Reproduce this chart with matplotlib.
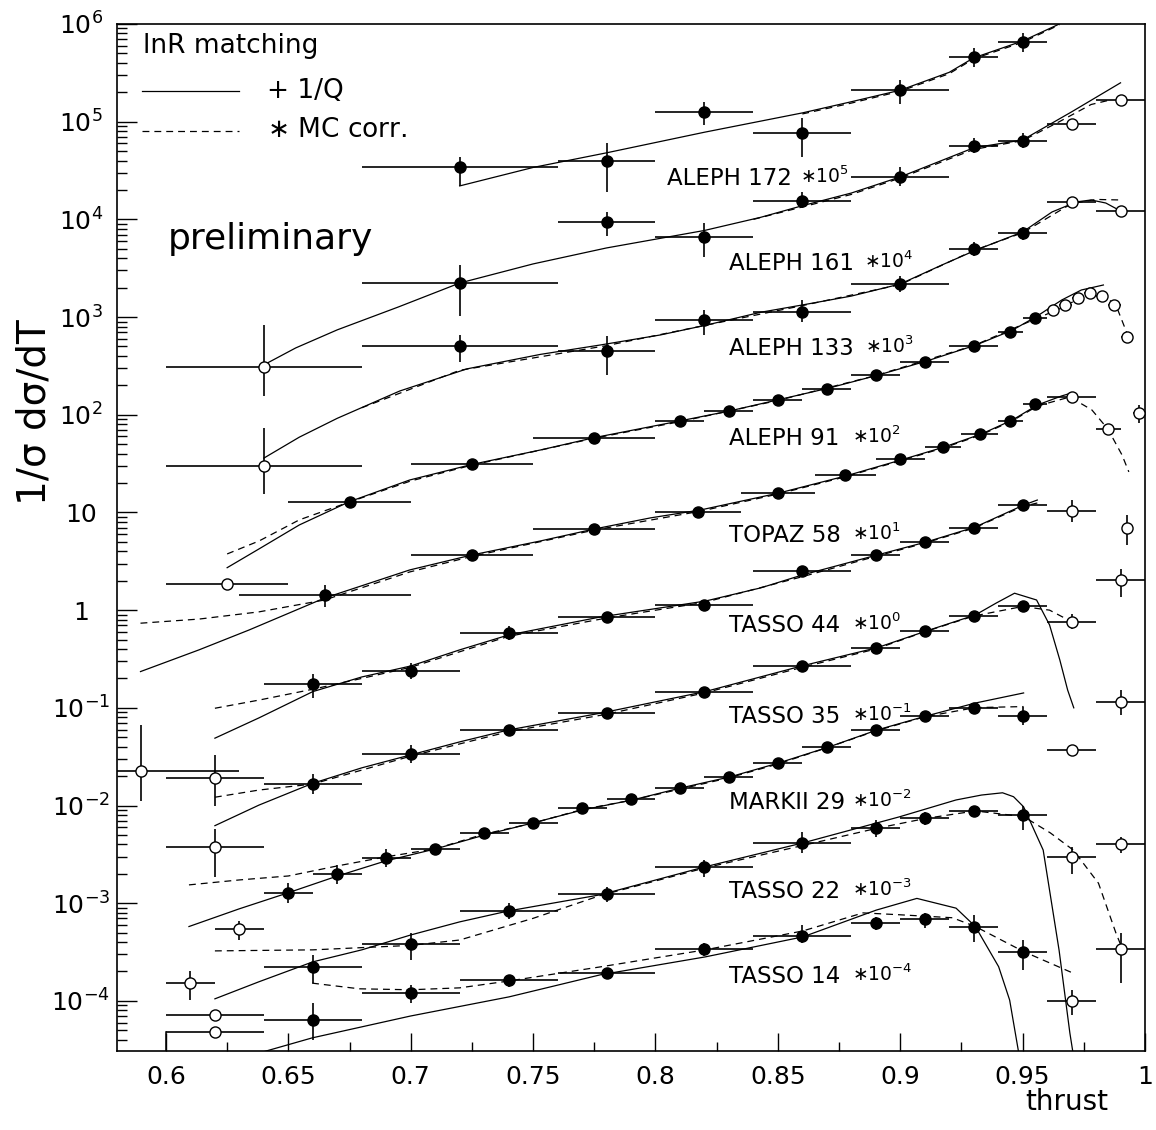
import matplotlib
matplotlib.use('Agg')
import numpy as np
import matplotlib.pyplot as plt
from matplotlib.ticker import MultipleLocator, FixedLocator, FuncFormatter, NullFormatter

plt.rcParams['font.family'] = ['DejaVu Sans']
plt.rcParams['mathtext.fontset'] = 'dejavusans'

# ---- ALEPH 172 GeV (x 1e5) ----
a172_T = [0.72, 0.78, 0.82, 0.86, 0.90, 0.93, 0.95]
a172_dT = [0.04, 0.02, 0.02, 0.02, 0.02, 0.01, 0.01]
a172_y = [3.4e4, 4.0e4, 1.26e5, 7.7e4, 2.1e5, 4.6e5, 6.5e5]
a172_lo = [2.2e4, 1.9e4, 9.2e4, 4.4e4, 1.5e5, 3.6e5, 5.2e5]
a172_hi = [4.4e4, 6.0e4, 1.6e5, 1.1e5, 2.7e5, 5.7e5, 8.1e5]
a172_open = [0, 0, 0, 0, 0, 0, 0]
a172_fit_T = [0.72, 0.75, 0.78, 0.82, 0.86, 0.88, 0.90, 0.92, 0.93, 0.95, 0.965]
a172_fit = [2.2e4, 3.4e4, 4.8e4, 7.8e4, 1.23e5, 1.6e5, 2.1e5, 3.2e5, 4.5e5, 6.7e5, 1.0e6]
a172_mc_T = [0.86, 0.88, 0.90, 0.92, 0.93, 0.95, 0.965]
a172_mc = [1.2e5, 1.55e5, 2.05e5, 3.1e5, 4.4e5, 6.5e5, 9.8e5]

# ---- ALEPH 161 GeV (x 1e4) ----
a161_T = [0.64, 0.72, 0.78, 0.82, 0.86, 0.90, 0.93, 0.95, 0.97, 0.99]
a161_dT = [0.04, 0.04, 0.02, 0.02, 0.02, 0.02, 0.01, 0.01, 0.01, 0.01]
a161_y = [306, 2250, 9400, 6600, 1.55e4, 2.7e4, 5.7e4, 6.4e4, 9.5e4, 1.67e5]
a161_lo = [156, 1030, 6800, 4100, 1.3e4, 2.2e4, 4.8e4, 5.4e4, 9.5e4, 1.67e5]
a161_hi = [830, 3400, 1.19e4, 9200, 1.9e4, 3.4e4, 6.8e4, 7.7e4, 9.5e4, 1.67e5]
a161_open = [1, 0, 0, 0, 0, 0, 0, 0, 1, 1]
a161_fit_T = [0.64, 0.653, 0.67, 0.695, 0.72, 0.75, 0.78, 0.82, 0.843, 0.86, 0.88, 0.90,
              0.93, 0.95, 0.97, 0.99]
a161_fit = [324, 483, 740, 1270, 2230, 3500, 5100, 7700, 1.05e4, 1.38e4, 1.86e4, 2.72e4,
            5.4e4, 6.5e4, 1.26e5, 2.5e5]
a161_mc_T = [0.84, 0.86, 0.88, 0.90, 0.93, 0.95, 0.965, 0.978, 0.985]
a161_mc = [1.0e4, 1.34e4, 1.8e4, 2.65e4, 5.2e4, 6.4e4, 1.0e5, 1.5e5, 1.65e5]

# ---- ALEPH 133 GeV (x 1e3) ----
a133_T = [0.64, 0.72, 0.78, 0.82, 0.86, 0.90, 0.93, 0.95, 0.97, 0.99]
a133_dT = [0.04, 0.04, 0.02, 0.02, 0.02, 0.02, 0.01, 0.01, 0.01, 0.01]
a133_y = [30, 506, 450, 934, 1140, 2180, 4940, 7200, 1.52e4, 1.23e4]
a133_lo = [15.5, 347, 255, 656, 890, 1810, 4200, 6200, 1.52e4, 1.1e4]
a133_hi = [73, 656, 641, 1180, 1500, 2630, 5800, 8400, 1.52e4, 1.37e4]
a133_open = [1, 0, 0, 0, 0, 0, 0, 0, 1, 1]
a133_fit_T = [0.64, 0.6545, 0.67, 0.6955, 0.723, 0.753, 0.7775, 0.802, 0.821, 0.843, 0.86,
              0.88, 0.90, 0.917, 0.931, 0.95, 0.962, 0.972, 0.978, 0.984, 0.99]
a133_fit = [36, 59, 92, 175, 295, 415, 518, 656, 830, 1120, 1330,
            1640, 2180, 3410, 4860, 7430, 1.19e4, 1.51e4, 1.58e4, 1.47e4, 1.22e4]
a133_mc_T = [0.68, 0.72, 0.78, 0.82, 0.86, 0.90, 0.93, 0.95, 0.97, 0.98, 0.99]
a133_mc = [118, 285, 510, 820, 1310, 2150, 4800, 7300, 1.45e4, 1.6e4, 1.58e4]

# ---- ALEPH 91 GeV (x 1e2) ----
a91_T = [0.625, 0.675, 0.725, 0.775, 0.81, 0.83, 0.85, 0.87, 0.89, 0.91, 0.93, 0.945, 0.955,
         0.9625, 0.9675, 0.9725, 0.9775, 0.9825, 0.9875, 0.9925, 0.9975]
a91_dT = [0.025, 0.025, 0.025, 0.025, 0.01, 0.01, 0.01, 0.01, 0.01, 0.01, 0.01, 0.005, 0.005,
          0.0025, 0.0025, 0.0025, 0.0025, 0.0025, 0.0025, 0.0025, 0.0025]
a91_y = [1.85, 12.9, 31.0, 58.3, 86.4, 109, 141, 185, 255, 347, 509, 709, 972,
         1183, 1330, 1580, 1750, 1645, 1330, 621, 104]
a91_lo = [1.85, 11.6, 29.0, 55.0, 86.4, 109, 141, 185, 255, 347, 509, 709, 972,
          1183, 1330, 1580, 1750, 1645, 1330, 621, 82]
a91_hi = [1.85, 14.3, 33.0, 62.0, 86.4, 109, 141, 185, 255, 347, 509, 709, 972,
          1183, 1330, 1580, 1750, 1645, 1330, 621, 126]
a91_open = [1, 0, 0, 0, 0, 0, 0, 0, 0, 0, 0, 0, 0, 1, 1, 1, 1, 1, 1, 1, 1]
a91_fit_T = [0.625, 0.638, 0.6545, 0.675, 0.6996, 0.725, 0.753, 0.775, 0.81, 0.83, 0.85, 0.871,
             0.891, 0.911, 0.931, 0.946, 0.956, 0.966, 0.974, 0.983]
a91_fit = [2.72, 4.23, 7.45, 12.9, 21.5, 31, 43.6, 58.3, 86.5, 109, 142, 188,
           255, 356, 518, 738, 1026, 1496, 1893, 2130]
a91_mc_T = [0.625, 0.638, 0.6545, 0.675, 0.70, 0.725, 0.775, 0.81, 0.85, 0.89, 0.93, 0.956,
            0.966, 0.9734, 0.9783, 0.9832, 0.9881, 0.9934]
a91_mc = [3.76, 5.1, 8.4, 12.8, 21, 30.5, 57.5, 85, 140, 252, 510, 975,
          1240, 1570, 1730, 1645, 1330, 611]

# ---- TOPAZ 58 GeV (x 10) ----
topaz_T = [0.665, 0.725, 0.775, 0.8175, 0.85, 0.8775, 0.90, 0.9175, 0.9325, 0.945, 0.955,
           0.97, 0.985, 0.9925]
topaz_dT = [0.035, 0.025, 0.025, 0.0175, 0.015, 0.0125, 0.01, 0.0075, 0.0075, 0.005, 0.005,
            0.01, 0.005, 0.0]
topaz_y = [1.43, 3.67, 6.73, 10.2, 16.0, 24.0, 35.0, 46.5, 63.6, 87, 129, 153, 71, 7.0]
topaz_lo = [1.08, 3.67, 6.73, 10.2, 16.0, 24.0, 35.0, 46.5, 63.6, 87, 129, 153, 71, 4.6]
topaz_hi = [1.81, 3.67, 6.73, 10.2, 16.0, 24.0, 35.0, 46.5, 63.6, 87, 129, 153, 71, 9.4]
topaz_open = [0, 0, 0, 0, 0, 0, 0, 0, 0, 0, 0, 1, 1, 1]
topaz_fit_T = [0.5896, 0.6135, 0.634, 0.6648, 0.6996, 0.725, 0.7529, 0.775, 0.798, 0.8184,
               0.8504, 0.8779, 0.9004, 0.918, 0.9332, 0.9459, 0.9561, 0.966, 0.970]
topaz_fit = [0.235, 0.392, 0.627, 1.33, 2.58, 3.67, 5.1, 6.77, 8.8, 10.6,
             15.8, 23.7, 34.5, 46.8, 63.6, 88.5, 126, 156, 167]
topaz_mc_T = [0.5896, 0.6135, 0.638, 0.6648, 0.6996, 0.725, 0.775, 0.8184, 0.8504, 0.8779,
              0.9004, 0.918, 0.9332, 0.9459, 0.9561, 0.9693, 0.9783, 0.9848, 0.9906, 0.9934]
topaz_mc = [0.735, 0.81, 0.96, 1.27, 2.46, 3.55, 6.6, 10.3, 15.5, 23.3,
            34, 46, 62.5, 87, 123, 152, 112, 71.6, 38.8, 26]

# ---- TASSO 44 GeV (x 1) ----
t44_T = [0.59, 0.66, 0.70, 0.74, 0.78, 0.82, 0.86, 0.89, 0.91, 0.93, 0.95, 0.97, 0.99]
t44_dT = [0.04, 0.02, 0.02, 0.02, 0.02, 0.02, 0.02, 0.01, 0.01, 0.01, 0.01, 0.01, 0.01]
t44_y = [0.0226, 0.175, 0.240, 0.589, 0.859, 1.13, 2.54, 3.67, 5.02, 6.89, 11.9, 10.4, 2.04]
t44_lo = [0.0112, 0.126, 0.195, 0.50, 0.859, 1.13, 2.54, 3.67, 5.02, 6.89, 11.9, 8.0, 1.36]
t44_hi = [0.0668, 0.222, 0.29, 0.69, 0.859, 1.13, 2.54, 3.67, 5.02, 6.89, 11.9, 13.4, 2.63]
t44_open = [1, 0, 0, 0, 0, 0, 0, 0, 0, 0, 0, 1, 1]
t44_fit_T = [0.62, 0.638, 0.66, 0.68, 0.70, 0.72, 0.74, 0.7775, 0.8205, 0.843, 0.86, 0.8906,
             0.9107, 0.9307, 0.9504, 0.956]
t44_fit = [0.0489, 0.0789, 0.1466, 0.207, 0.268, 0.392, 0.557, 0.851, 1.24, 1.69, 2.29, 3.67,
           4.99, 7.1, 11.9, 13.4]
t44_mc_T = [0.62, 0.638, 0.66, 0.68, 0.70, 0.74, 0.78, 0.82, 0.86, 0.89, 0.91, 0.93, 0.95, 0.956]
t44_mc = [0.099, 0.12, 0.155, 0.2, 0.26, 0.54, 0.83, 1.2, 2.2, 3.55, 4.85, 6.9, 11.5, 12.5]

# ---- TASSO 35 GeV (x 1e-1) ----
t35_T = [0.62, 0.66, 0.70, 0.74, 0.78, 0.82, 0.86, 0.89, 0.91, 0.93, 0.95, 0.97, 0.99]
t35_dT = [0.02, 0.02, 0.02, 0.02, 0.02, 0.02, 0.02, 0.01, 0.01, 0.01, 0.01, 0.01, 0.01]
t35_y = [0.0193, 0.0166, 0.0335, 0.0594, 0.0893, 0.1466, 0.2685, 0.413, 0.612, 0.879, 1.09,
         0.762, 0.116]
t35_lo = [0.0098, 0.0132, 0.0271, 0.0594, 0.0893, 0.1466, 0.2685, 0.413, 0.612, 0.879, 1.09,
          0.64, 0.085]
t35_hi = [0.033, 0.0212, 0.0415, 0.0594, 0.0893, 0.1466, 0.2685, 0.413, 0.612, 0.879, 1.09,
          0.91, 0.152]
t35_open = [1, 0, 0, 0, 0, 0, 0, 0, 0, 0, 0, 1, 1]
t35_fit_T = [0.62, 0.638, 0.66, 0.68, 0.70, 0.72, 0.74, 0.7775, 0.8203, 0.8602, 0.8906, 0.9107,
             0.9307, 0.9393, 0.9467, 0.9557, 0.961, 0.9652, 0.9684, 0.9709]
t35_fit = [0.00622, 0.0101, 0.0169, 0.0243, 0.033, 0.0448, 0.0594, 0.0881, 0.1466, 0.270,
           0.413, 0.612, 0.893, 1.185, 1.49, 1.27, 0.706, 0.309, 0.152, 0.1]
t35_mc_T = [0.62, 0.638, 0.66, 0.70, 0.74, 0.78, 0.82, 0.86, 0.89, 0.91, 0.93, 0.95, 0.961, 0.97]
t35_mc = [0.01216, 0.0144, 0.0166, 0.032, 0.057, 0.086, 0.142, 0.26, 0.40, 0.60, 0.87, 1.09,
          1.0, 0.762]

# ---- MARK II 29 GeV (x 1e-2) ----
m29_T = [0.62, 0.65, 0.67, 0.69, 0.71, 0.73, 0.75, 0.77, 0.79, 0.81, 0.83, 0.85, 0.87, 0.89,
         0.91, 0.93, 0.95, 0.97]
m29_dT = [0.02, 0.01, 0.01, 0.01, 0.01, 0.01, 0.01, 0.01, 0.01, 0.01, 0.01, 0.01, 0.01, 0.01,
          0.01, 0.01, 0.01, 0.01]
m29_y = [0.00379, 0.00126, 0.00198, 0.00293, 0.00357, 0.00528, 0.00668, 0.00938, 0.0116,
         0.0150, 0.0196, 0.0271, 0.0395, 0.0594, 0.0826, 0.1005, 0.0832, 0.0371]
m29_lo = [0.00187, 0.00101, 0.00158, 0.00234, 0.00320, 0.00480, 0.00620, 0.00880, 0.0116,
          0.0150, 0.0196, 0.0271, 0.0395, 0.0594, 0.0826, 0.1005, 0.067, 0.0371]
m29_hi = [0.00577, 0.00161, 0.00245, 0.00360, 0.00400, 0.00580, 0.00720, 0.0100, 0.0116,
          0.0150, 0.0196, 0.0271, 0.0395, 0.0594, 0.0826, 0.1005, 0.103, 0.0371]
m29_open = [1, 0, 0, 0, 0, 0, 0, 0, 0, 0, 0, 0, 0, 0, 0, 0, 0, 1]
m29_fit_T = [0.6094, 0.6299, 0.65, 0.6701, 0.6898, 0.7102, 0.7303, 0.75, 0.7701, 0.7906, 0.8102,
             0.8303, 0.8504, 0.8709, 0.8906, 0.9107, 0.9307, 0.9504]
m29_fit = [5.77e-4, 8.75e-4, 1.28e-3, 1.9e-3, 2.71e-3, 3.6e-3, 5.0e-3, 6.64e-3, 9.0e-3, 0.0114,
           0.0151, 0.0196, 0.0273, 0.0398, 0.0594, 0.0826, 0.112, 0.142]
m29_mc_T = [0.6094, 0.6299, 0.65, 0.6701, 0.6898, 0.71, 0.73, 0.75, 0.77, 0.79, 0.81, 0.83, 0.85,
            0.87, 0.89, 0.91, 0.9307, 0.9504]
m29_mc = [1.54e-3, 1.73e-3, 1.9e-3, 2.41e-3, 2.98e-3, 3.6e-3, 5.1e-3, 6.6e-3, 9.1e-3, 0.0113,
          0.0147, 0.0192, 0.0266, 0.039, 0.058, 0.081, 0.1005, 0.103]

# ---- TASSO 22 GeV (x 1e-3) ----
t22_T = [0.61, 0.63, 0.66, 0.70, 0.74, 0.78, 0.82, 0.86, 0.89, 0.91, 0.93, 0.95, 0.97, 0.99]
t22_dT = [0.01, 0.01, 0.02, 0.02, 0.02, 0.02, 0.02, 0.02, 0.01, 0.01, 0.01, 0.01, 0.01, 0.01]
t22_y = [1.54e-4, 5.42e-4, 2.24e-4, 3.8e-4, 8.34e-4, 1.245e-3, 2.34e-3, 4.17e-3, 5.86e-3,
         7.41e-3, 8.81e-3, 8.0e-3, 2.96e-3, 4.02e-3]
t22_lo = [1.02e-4, 4.2e-4, 1.53e-4, 2.63e-4, 6.9e-4, 1.04e-3, 1.87e-3, 3.3e-3, 4.8e-3,
          6.3e-3, 8.81e-3, 5.6e-3, 2.0e-3, 3.3e-3]
t22_hi = [2.0e-4, 6.6e-4, 2.95e-4, 5.0e-4, 1.0e-3, 1.48e-3, 2.77e-3, 5.3e-3, 7.1e-3,
          8.5e-3, 8.81e-3, 9.9e-3, 3.8e-3, 4.8e-3]
t22_open = [1, 1, 0, 0, 0, 0, 0, 0, 0, 0, 0, 0, 1, 1]
t22_fit_T = [0.62, 0.638, 0.66, 0.68, 0.70, 0.72, 0.74, 0.7775, 0.8203, 0.8602, 0.8996, 0.9228,
             0.9332, 0.9418, 0.9463, 0.9504, 0.9584, 0.9649, 0.9693, 0.9717]
t22_fit = [1.05e-4, 1.57e-4, 2.51e-4, 3.33e-4, 4.73e-4, 6.44e-4, 8.34e-4, 1.22e-3, 2.36e-3,
           4.14e-3, 7.65e-3, 0.0114, 0.0128, 0.0135, 0.0123, 9.7e-3, 3.5e-3, 3.3e-4, 4.7e-5, 1.95e-5]
t22_mc_T = [0.62, 0.66, 0.70, 0.72, 0.75, 0.7775, 0.8203, 0.8602, 0.8906, 0.9107, 0.9307, 0.9504,
            0.9613, 0.9707, 0.981, 0.9881, 0.9908]
t22_mc = [3.25e-4, 3.33e-4, 3.7e-4, 4.2e-4, 7.0e-4, 1.2e-3, 2.3e-3, 3.9e-3, 5.86e-3, 7.4e-3,
          8.8e-3, 7.7e-3, 5.25e-3, 3.5e-3, 1.6e-3, 4.97e-4, 3.38e-4]

# ---- TASSO 14 GeV (x 1e-4) ----
t14_T = [0.62, 0.62, 0.66, 0.70, 0.74, 0.78, 0.82, 0.86, 0.89, 0.91, 0.93, 0.95, 0.97, 0.99]
t14_dT = [0.02, 0.02, 0.02, 0.02, 0.02, 0.02, 0.02, 0.02, 0.01, 0.01, 0.01, 0.01, 0.01, 0.01]
t14_y = [7.19e-5, 4.79e-5, 6.4e-5, 1.2e-4, 1.64e-4, 1.95e-4, 3.4e-4, 4.62e-4, 6.24e-4, 6.85e-4,
         5.77e-4, 3.15e-4, 1.0e-4, 3.38e-4]
t14_lo = [7.19e-5, 4.79e-5, 3.98e-5, 9.55e-5, 1.4e-4, 1.95e-4, 2.85e-4, 3.9e-4, 5.3e-4, 5.6e-4,
          4.0e-4, 2.07e-4, 7.2e-5, 1.53e-4]
t14_hi = [7.19e-5, 4.79e-5, 9.55e-5, 1.46e-4, 1.85e-4, 1.95e-4, 3.9e-4, 6.0e-4, 7.3e-4, 7.9e-4,
          7.6e-4, 4.2e-4, 1.3e-4, 5.0e-4]
t14_open = [1, 1, 0, 0, 0, 0, 0, 0, 0, 0, 0, 0, 1, 1]
t14_edge_T = [0.60, 0.60]
t14_edge = [4.79e-5, 1e-5]
t14_fit_T = [0.636, 0.6597, 0.6999, 0.7402, 0.7775, 0.8203, 0.8602, 0.8902, 0.9068, 0.9228,
             0.9307, 0.9402, 0.9447, 0.9482, 0.9496]
t14_fit = [2.83e-5, 4.18e-5, 7.0e-5, 1.1e-4, 1.85e-4, 2.82e-4, 4.52e-4, 8.5e-4, 1.12e-3, 8.9e-4,
           5.77e-4, 2.24e-4, 1.02e-4, 3.15e-5, 2.0e-5]
t14_mc_T = [0.6597, 0.679, 0.6999, 0.72, 0.7402, 0.7775, 0.8203, 0.8602, 0.8848, 0.9004, 0.9213,
            0.9307, 0.9504, 0.9707]
t14_mc = [1.52e-4, 1.33e-4, 1.3e-4, 1.36e-4, 1.6e-4, 2.23e-4, 3.33e-4, 5.2e-4, 7.96e-4, 7.6e-4,
          7.1e-4, 5.77e-4, 3.2e-4, 1.92e-4]

series_names = ['ALEPH 172', 'ALEPH 161', 'ALEPH 133', 'ALEPH 91', 'TOPAZ 58', 'TASSO 44',
                'TASSO 35', 'MARKII 29', 'TASSO 22', 'TASSO 14']
series_scale = [5, 4, 3, 2, 1, 0, -1, -2, -3, -4]
y_decades = [-4, -3, -2, -1, 0, 1, 2, 3, 4, 5, 6]

points = [
    (a172_T, a172_dT, a172_y, a172_lo, a172_hi, a172_open),
    (a161_T, a161_dT, a161_y, a161_lo, a161_hi, a161_open),
    (a133_T, a133_dT, a133_y, a133_lo, a133_hi, a133_open),
    (a91_T, a91_dT, a91_y, a91_lo, a91_hi, a91_open),
    (topaz_T, topaz_dT, topaz_y, topaz_lo, topaz_hi, topaz_open),
    (t44_T, t44_dT, t44_y, t44_lo, t44_hi, t44_open),
    (t35_T, t35_dT, t35_y, t35_lo, t35_hi, t35_open),
    (m29_T, m29_dT, m29_y, m29_lo, m29_hi, m29_open),
    (t22_T, t22_dT, t22_y, t22_lo, t22_hi, t22_open),
    (t14_T, t14_dT, t14_y, t14_lo, t14_hi, t14_open),
]
fits = [(a172_fit_T, a172_fit), (a161_fit_T, a161_fit), (a133_fit_T, a133_fit),
        (a91_fit_T, a91_fit), (topaz_fit_T, topaz_fit), (t44_fit_T, t44_fit),
        (t35_fit_T, t35_fit), (m29_fit_T, m29_fit), (t22_fit_T, t22_fit),
        (t14_fit_T, t14_fit)]
mcs = [(a172_mc_T, a172_mc), (a161_mc_T, a161_mc), (a133_mc_T, a133_mc),
       (a91_mc_T, a91_mc), (topaz_mc_T, topaz_mc), (t44_mc_T, t44_mc),
       (t35_mc_T, t35_mc), (m29_mc_T, m29_mc), (t22_mc_T, t22_mc),
       (t14_mc_T, t14_mc)]

W, H = 1156, 1130
L, R, B, Tp = 117, 1145, 1051, 24
DASH = (0, (5.5, 4.0))


def axpos(px, py):
    return (px - L) / (R - L), (B - py) / (B - Tp)


def fmt_x(v, pos):
    return '%g' % round(v, 3)


def fmt_y(v, pos):
    e = int(round(np.log10(v)))
    if e == 0:
        return '1'
    if e == 1:
        return '10'
    return r'$\mathregular{10^{%d}}$' % e


fig = plt.figure(figsize=(W / 100, H / 100), dpi=100)
ax = fig.add_axes([L / W, 1 - B / H, (R - L) / W, (B - Tp) / H])
ax.set_yscale('log')
ax.set_xlim(0.58, 1.0)
ax.set_ylim(3.07e-5, 1e6)

for T, y in fits:
    ax.plot(T, y, color='black', lw=0.9, zorder=2)
for T, y in mcs:
    ax.plot(T, y, color='black', lw=0.9, linestyle=DASH, zorder=2)
ax.plot(t14_edge_T, t14_edge, color='black', lw=1.1, zorder=2)

for T, dT, y, lo, hi, op in points:
    for t, d, v, l, h, o in zip(T, dT, y, lo, hi, op):
        ax.errorbar([t], [v], xerr=[[d], [d]], yerr=[[v - l], [h - v]], fmt='o', ms=8,
                    mfc='white' if o else 'black', mec='black', mew=1.0,
                    ecolor='black', elinewidth=1.2, capsize=0, zorder=3)

# axes style
minor_y = [m * 10.0 ** e for e in [-5] + y_decades for m in range(2, 10)]
ax.xaxis.set_major_locator(MultipleLocator(0.05))
ax.xaxis.set_minor_locator(MultipleLocator(0.025))
ax.xaxis.set_major_formatter(FuncFormatter(fmt_x))
ax.yaxis.set_major_locator(FixedLocator([10.0 ** e for e in y_decades]))
ax.yaxis.set_minor_locator(FixedLocator([v for v in minor_y if 3.07e-5 < v < 1e6]))
ax.yaxis.set_major_formatter(FuncFormatter(fmt_y))
ax.yaxis.set_minor_formatter(NullFormatter())
ax.tick_params(axis='both', which='both', direction='in', top=False, right=False, width=1)
ax.tick_params(axis='x', which='major', length=13, labelsize=18, pad=10)
ax.tick_params(axis='x', which='minor', length=6.5)
ax.tick_params(axis='y', which='major', length=14.4, labelsize=18, pad=26)
ax.tick_params(axis='y', which='minor', length=7.2)
for lab in ax.get_yticklabels():
    lab.set_horizontalalignment('center')
for s in ax.spines.values():
    s.set_linewidth(1.2)

# legend block
ax.text(*axpos(143, 53), 'lnR matching', transform=ax.transAxes, fontsize=19, va='baseline')
x0, y0 = axpos(142, 91)
x1, _ = axpos(239, 91)
ax.plot([x0, x1], [y0, y0], color='black', lw=0.9, transform=ax.transAxes)
ax.text(*axpos(267, 98), '+ 1/Q', transform=ax.transAxes, fontsize=19, va='baseline')
x0, y0 = axpos(142, 131)
ax.plot([x0, x1], [y0, y0], color='black', lw=0.9, linestyle=DASH, transform=ax.transAxes)
ax.text(*axpos(267, 137), r'$\ast$ MC corr.', transform=ax.transAxes, fontsize=19, va='baseline')
ax.text(*axpos(168, 249), 'preliminary', transform=ax.transAxes, fontsize=26, va='baseline')

# series labels
label_px = [(667, 185, 800), (729, 270, 864), (729, 355, 865), (729, 445, 852),
            (729, 542, 852), (729, 632, 852), (729, 723, 852), (729, 809, 852),
            (729, 898, 852), (729, 983, 852)]
for name, sc, (px, py, mx) in zip(series_names, series_scale, label_px):
    ax.text(*axpos(px, py), name, transform=ax.transAxes, fontsize=16.5, va='baseline')
    ax.text(*axpos(mx, py - 2), r'$\ast\mathregular{10^{%d}}$' % sc, transform=ax.transAxes,
            fontsize=13.5, va='baseline')

fig.text(35 / W, 1 - 412 / H, '1/σ dσ/dT', rotation=90, fontsize=28, ha='center', va='center')
fig.text(1025 / W, 1 - 1110 / H, 'thrust', fontsize=20, ha='left', va='baseline')

fig.savefig('out.png', dpi=100)
